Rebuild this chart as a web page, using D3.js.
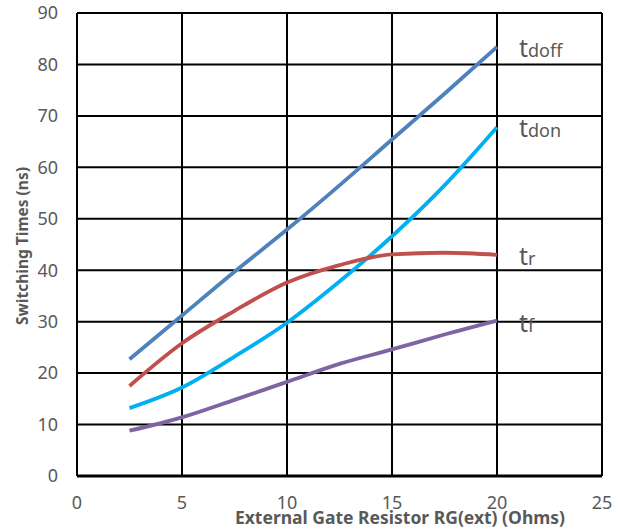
<!DOCTYPE html>
<html><head><meta charset="utf-8">
<script src="https://cdn.jsdelivr.net/npm/d3@7"></script>
<style>body{margin:0;background:#fff}svg{display:block}</style>
</head><body>
<script>
const xValues = [2.5, 5, 7.5, 10, 12.5, 15, 17.5, 20];
const tdoff = [22.7, 31.2, 39.7, 47.9, 56.5, 65.4, 74.3, 83.4];
const tdon  = [13.2, 17.2, 23.2, 29.8, 37.8, 46.6, 56.5, 67.8];
const tr    = [17.5, 25.8, 32.1, 37.6, 41.0, 43.1, 43.4, 43.0];
const tf    = [8.8, 11.4, 14.8, 18.3, 21.8, 24.6, 27.5, 30.2];
const seriesNames = [["t","doff"],["t","don"],["t","r"],["t","f"]];
const xTicks = [0, 5, 10, 15, 20, 25];
const yTicks = [0, 10, 20, 30, 40, 50, 60, 70, 80, 90];
const xTitle = "External Gate Resistor RG(ext) (Ohms)";
const yTitle = "Switching Times (ns)";

const W = 621, H = 531;
const m = {left: 77, right: 19, top: 13, bottom: 55};
const svg = d3.select("body").append("svg").attr("width", W).attr("height", H);
const x = d3.scaleLinear().domain([0, 25]).range([m.left, W - m.right]);
const y = d3.scaleLinear().domain([0, 90]).range([H - m.bottom, m.top]);
const grey = "#595959";
const font = "'Noto Sans', sans-serif";

// grid
svg.append("g").selectAll("line").data(yTicks).join("line")
  .attr("x1", x(0)).attr("x2", x(25)).attr("y1", d => y(d)).attr("y2", d => y(d))
  .attr("stroke", "#000").attr("stroke-width", d => d === 0 ? 3 : 2);
svg.append("g").selectAll("line").data(xTicks).join("line")
  .attr("y1", y(0)).attr("y2", y(90)).attr("x1", d => x(d)).attr("x2", d => x(d))
  .attr("stroke", "#000").attr("stroke-width", 2);

// tick labels
svg.append("g").selectAll("text").data(yTicks).join("text")
  .attr("x", m.left - 19).attr("y", d => y(d)).attr("dy", "0.35em")
  .attr("text-anchor", "end").attr("font-family", font).attr("font-size", 18)
  .attr("fill", grey).text(d => d);
svg.append("g").selectAll("text").data(xTicks).join("text")
  .attr("x", d => x(d)).attr("y", 509)
  .attr("text-anchor", "middle").attr("font-family", font).attr("font-size", 18)
  .attr("fill", grey).text(d => d);

// titles
svg.append("text").attr("x", 400).attr("y", 524).attr("text-anchor", "middle")
  .attr("font-family", font).attr("font-weight", "bold").attr("font-size", 17.5)
  .attr("fill", grey).text(xTitle);
svg.append("text").attr("transform", "translate(28,246) rotate(-90)")
  .attr("text-anchor", "middle")
  .attr("font-family", font).attr("font-weight", "bold").attr("font-size", 15.5)
  .attr("fill", grey).text(yTitle);

// lines
const series = [
  {vals: tdoff, color: "#4F81BD"},
  {vals: tdon, color: "#00B0F0"},
  {vals: tr, color: "#C0504D"},
  {vals: tf, color: "#8064A2"}
];
const line = d3.line().x(d => x(d[0])).y(d => y(d[1])).curve(d3.curveMonotoneX);
series.forEach(s => {
  svg.append("path").datum(xValues.map((v, i) => [v, s.vals[i]]))
    .attr("d", line).attr("fill", "none").attr("stroke", s.color)
    .attr("stroke-width", 3.8).attr("stroke-linecap", "butt");
});

// series labels
const labelY = [57, 137, 265, 332];
seriesNames.forEach((n, i) => {
  const t = svg.append("text").attr("x", 519).attr("y", labelY[i])
    .attr("font-family", font).attr("fill", grey);
  t.append("tspan").attr("font-size", 25).text(n[0]);
  t.append("tspan").attr("font-size", 18).text(n[1]);
});
</script>
</body></html>
